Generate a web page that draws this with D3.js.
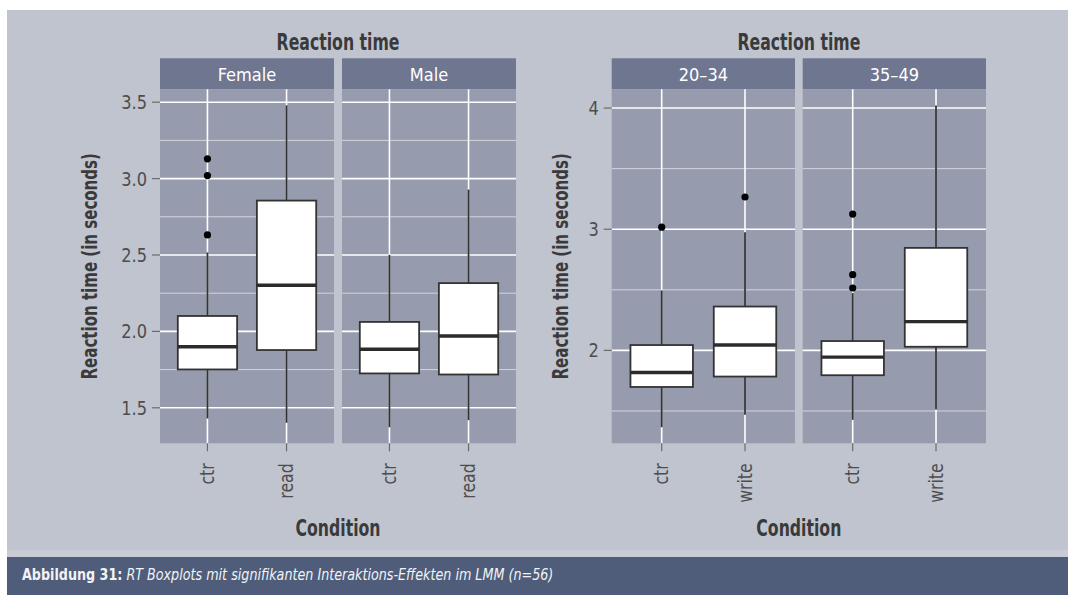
<!DOCTYPE html>
<html lang="de">
<head>
  <meta charset="UTF-8" />
  <title>RT Boxplots</title>
  <script src="https://d3js.org/d3.v7.min.js"></script>
  <style>
    body {
      margin: 0;
      background: #ffffff;
    }
    svg text {
      font-family: 'Liberation Sans Narrow', 'DejaVu Sans Condensed', 'Roboto Condensed', sans-serif;
      font-stretch: condensed;
    }
  </style>
</head>
<body>
  <svg id="chart" width="1068" height="595"></svg>

  <script>
    // --- data ---
    // box stats: [lower whisker, q1, median, q3, upper whisker]
    const genderFacets = ["Female", "Male"];
    const genderConds = ["ctr", "read"];
    const femaleStats = [[1.430, 1.751, 1.900, 2.101, 2.517], [1.402, 1.878, 2.302, 2.856, 3.479]];
    const femaleOutliers = [[2.631, 3.020, 3.129], []];
    const maleStats = [[1.373, 1.725, 1.883, 2.062, 2.501], [1.419, 1.718, 1.970, 2.316, 2.928]];
    const maleOutliers = [[], []];
    const genderTicks = [1.5, 2.0, 2.5, 3.0, 3.5];
    const genderMinor = [1.75, 2.25, 2.75, 3.25];

    const ageFacets = ["20–34", "35–49"];
    const ageConds = ["ctr", "write"];
    const age1Stats = [[1.366, 1.698, 1.817, 2.044, 2.495], [1.469, 1.784, 2.044, 2.362, 2.976]];
    const age1Outliers = [[3.017], [3.266]];
    const age2Stats = [[1.427, 1.795, 1.944, 2.077, 2.473], [1.513, 2.030, 2.237, 2.846, 4.022]];
    const age2Outliers = [[2.515, 2.625, 3.125], []];
    const ageTicks = [2, 3, 4];
    const ageMinor = [1.5, 2.5, 3.5];

    const svg = d3.select("#chart");

    // no condensed Myriad here, so squeeze the bold text a bit
    const squeeze = 0.76;

    // background + caption bar
    svg.append("rect").attr("x", 7).attr("y", 10).attr("width", 1061).attr("height", 540).attr("fill", "#c0c4cf");
    svg.append("rect").attr("x", 7).attr("y", 550).attr("width", 1061).attr("height", 7).attr("fill", "#c9ccd5");
    svg.append("rect").attr("x", 7).attr("y", 557).attr("width", 1061).attr("height", 38).attr("fill", "#4f5d7a");

    const cap = svg.append("text").attr("transform", "translate(22,580) scale(0.885,1)")
      .attr("fill", "#f2f3f6").style("font-size", "16px");
    cap.append("tspan").style("font-weight", "bold").text("Abbildung 31:");
    cap.append("tspan").style("font-style", "italic").text(" RT Boxplots mit signifikanten Interaktions-Effekten im LMM (n=56)");

    function drawPlot(opt) {
      const g = svg.append("g");
      const top = 89.3, bottom = 443.3;

      // y domain from data with 5% expansion, like ggplot
      const all = [];
      opt.stats.forEach(s => s.forEach(b => all.push(b[0], b[4])));
      opt.outliers.forEach(s => s.forEach(o => o.forEach(v => all.push(v))));
      const lo = d3.min(all), hi = d3.max(all), pad = (hi - lo) * 0.05;
      const y = d3.scaleLinear().domain([lo - pad, hi + pad]).range([bottom, top]);

      const x0 = opt.left, pw = opt.panelW, gap = opt.gap;

      opt.facets.forEach((f, fi) => {
        const px = x0 + fi * (pw + gap);
        // discrete x with 0.6 expansion each side
        const x = d3.scaleLinear().domain([0.4, opt.conds.length + 0.6]).range([px, px + pw]);
        const unit = x(2) - x(1);

        // strip
        g.append("rect").attr("x", px).attr("y", 58.3).attr("width", pw).attr("height", top - 58.3).attr("fill", "#6f7690");
        g.append("text").attr("x", px + pw / 2).attr("y", 81).attr("text-anchor", "middle")
          .attr("fill", "#ffffff").style("font-size", "18px").text(f);

        // panel
        g.append("rect").attr("x", px).attr("y", top).attr("width", pw).attr("height", bottom - top).attr("fill", "#969bad");
        g.selectAll(null).data(opt.minor).enter().append("line")
          .attr("x1", px).attr("x2", px + pw).attr("y1", d => y(d)).attr("y2", d => y(d))
          .attr("stroke", "#d3d6df").attr("stroke-width", 1);
        g.selectAll(null).data(opt.ticks).enter().append("line")
          .attr("x1", px).attr("x2", px + pw).attr("y1", d => y(d)).attr("y2", d => y(d))
          .attr("stroke", "#ffffff").attr("stroke-width", 1.6);
        g.selectAll(null).data(opt.conds).enter().append("line")
          .attr("x1", (d, i) => x(i + 1)).attr("x2", (d, i) => x(i + 1)).attr("y1", top).attr("y2", bottom)
          .attr("stroke", "#ffffff").attr("stroke-width", 1.6);

        // boxes
        opt.stats[fi].forEach((s, ci) => {
          const cx = x(ci + 1), bw = unit * 0.75;
          g.append("line").attr("x1", cx).attr("x2", cx).attr("y1", y(s[0])).attr("y2", y(s[1]))
            .attr("stroke", "#333333").attr("stroke-width", 1.8);
          g.append("line").attr("x1", cx).attr("x2", cx).attr("y1", y(s[3])).attr("y2", y(s[4]))
            .attr("stroke", "#333333").attr("stroke-width", 1.8);
          g.append("rect").attr("x", cx - bw / 2).attr("y", y(s[3])).attr("width", bw).attr("height", y(s[1]) - y(s[3]))
            .attr("fill", "#ffffff").attr("stroke", "#333333").attr("stroke-width", 1.8);
          g.append("line").attr("x1", cx - bw / 2).attr("x2", cx + bw / 2).attr("y1", y(s[2])).attr("y2", y(s[2]))
            .attr("stroke", "#2b2b2b").attr("stroke-width", 3.4);
          g.selectAll(null).data(opt.outliers[fi][ci]).enter().append("circle")
            .attr("cx", cx).attr("cy", d => y(d)).attr("r", 3.6).attr("fill", "#000000");
        });

        // x axis ticks + labels
        opt.conds.forEach((c, ci) => {
          const cx = x(ci + 1);
          g.append("line").attr("x1", cx).attr("x2", cx).attr("y1", bottom).attr("y2", bottom + 8)
            .attr("stroke", "#6b6b6b").attr("stroke-width", 1.2);
          g.append("text").attr("transform", `translate(${cx},${bottom + 20}) rotate(-90) scale(0.92,1)`)
            .attr("text-anchor", "end").attr("dy", "0.35em")
            .attr("fill", "#4d4d4d").style("font-size", "19px").text(c);
        });
      });

      // y axis
      g.selectAll(null).data(opt.ticks).enter().append("line")
        .attr("x1", x0 - 8).attr("x2", x0).attr("y1", d => y(d)).attr("y2", d => y(d))
        .attr("stroke", "#6b6b6b").attr("stroke-width", 1.2);
      g.selectAll(null).data(opt.ticks).enter().append("text")
        .attr("transform", d => `translate(${x0 - 13},${y(d)}) scale(0.9,1)`)
        .attr("dy", "0.35em").attr("text-anchor", "end")
        .attr("fill", "#4d4d4d").style("font-size", "20px").text(opt.fmt);

      const cxAll = x0 + pw + gap / 2;
      g.append("text").attr("transform", `translate(${cxAll},50) scale(${squeeze},1)`).attr("text-anchor", "middle")
        .attr("fill", "#3a3a3a").style("font-size", "23px").style("font-weight", "bold").text("Reaction time");
      g.append("text").attr("transform", `translate(${cxAll},536) scale(${squeeze},1)`).attr("text-anchor", "middle")
        .attr("fill", "#3a3a3a").style("font-size", "23px").style("font-weight", "bold").text("Condition");
      g.append("text").attr("transform", `translate(${opt.titleX},${(top + bottom) / 2}) rotate(-90) scale(${squeeze},1)`)
        .attr("text-anchor", "middle")
        .attr("fill", "#3a3a3a").style("font-size", "22px").style("font-weight", "bold").text("Reaction time (in seconds)");
    }

    drawPlot({
      left: 160, panelW: 174, gap: 8, titleX: 96.5,
      facets: genderFacets, conds: genderConds,
      stats: [femaleStats, maleStats], outliers: [femaleOutliers, maleOutliers],
      ticks: genderTicks, minor: genderMinor, fmt: d3.format(".1f")
    });
    drawPlot({
      left: 611.7, panelW: 183.3, gap: 7.7, titleX: 568.4,
      facets: ageFacets, conds: ageConds,
      stats: [age1Stats, age2Stats], outliers: [age1Outliers, age2Outliers],
      ticks: ageTicks, minor: ageMinor, fmt: d3.format("d")
    });
  </script>
</body>
</html>
